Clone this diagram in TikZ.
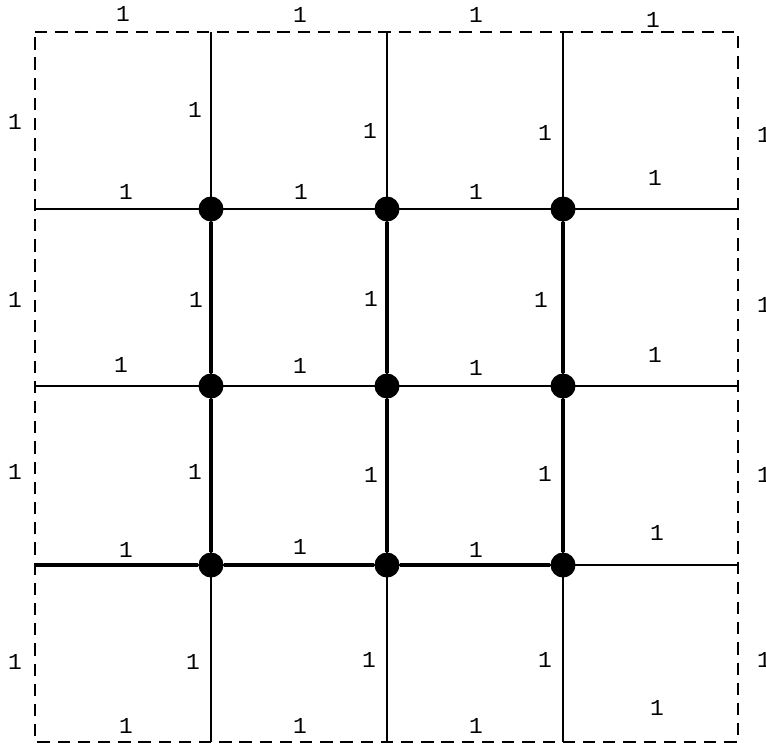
\documentclass[tikz,border=0pt]{standalone}
\usepackage{fontspec}
\setmonofont{Liberation Mono}
\usetikzlibrary{positioning}
\tikzset{
  thinline/.style={line width=1.1pt},
  thickline/.style={line width=2.6pt},
  boundary/.style={line width=1.3pt, dash pattern=on 7pt off 4.5pt},
  vertex/.style={circle, fill=black, inner sep=0pt, minimum size=0.5cm},
  weight/.style={font=\ttfamily\fontsize{13}{15}\selectfont, inner sep=0pt}
}

\begin{document}
\begin{tikzpicture}[x=0.02cm, y=-0.02cm]
  \useasboundingbox (0,0) rectangle (766,744);

  % grid points
  \foreach \i/\x in {0/35,1/211,2/387,3/563,4/738} {
    \foreach \j/\y in {0/32,1/209,2/386,3/565,4/742} {
      \coordinate (p\i\j) at (\x,\y);
    }
  }

  % outer boundary
  \draw[boundary] (p00) -- (p40) -- (p44) -- (p04) -- cycle;

  % thin grid lines
  \foreach \k in {1,2,3} {
    \draw[thinline] (p\k0) -- (p\k4);
    \draw[thinline] (p0\k) -- (p4\k);
  }

  % vertices
  \foreach \i in {1,2,3}
    \foreach \j in {1,2,3}
      \node[vertex] (v\i\j) at (p\i\j) {};

  % thick path
  \foreach \k in {1,2,3}
    \draw[thickline] (v\k1) -- (v\k2) -- (v\k3);
  \draw[thickline] (p03) -- (v13) -- (v23) -- (v33);

  % edge weights
  \foreach \x/\y [count=\n] in {
  123/14, 300/15, 476/15, 653/20,
  15/122, 15/300, 15/472, 15/662,
  764/135, 764/305, 764/475, 764/660,
  126/192, 301/192, 476/192, 655/178,
  121/365, 300/366, 476/368, 655/355,
  126/550, 300/547, 476/550, 657/533,
  126/726, 300/726, 476/726, 657/708,
  195/110, 196/300, 195/472, 193/662,
  370/131, 371/299, 371/475, 369/660,
  545/133, 541/300, 545/474, 545/660
  } {
    \node[weight] (w\n) at (\x,\y) {1};
  }

\end{tikzpicture}
\end{document}
